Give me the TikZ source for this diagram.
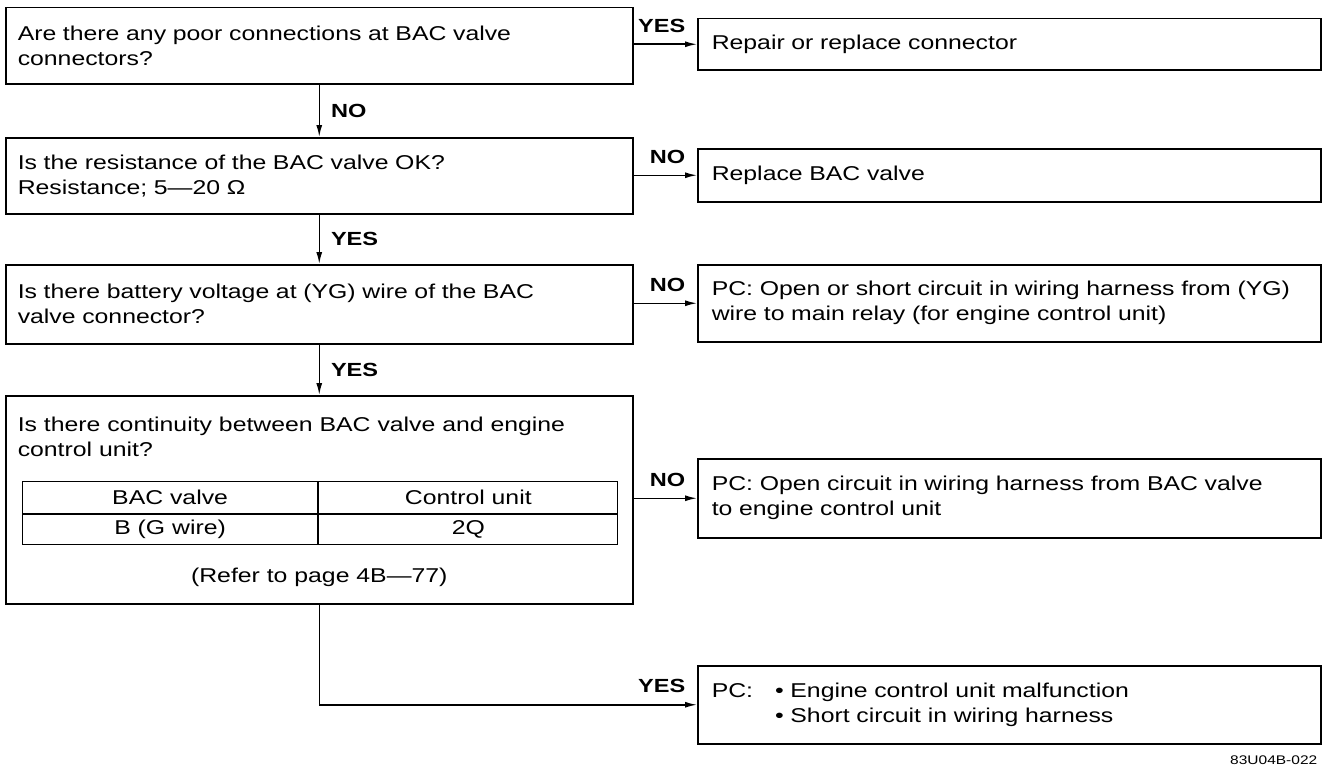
\documentclass[tikz,border=0pt]{standalone}
\usepackage{fontspec}
\setmainfont{Liberation Sans}[FakeStretch=1.24]
\usetikzlibrary{positioning,arrows.meta}

\begin{document}
\begin{tikzpicture}[x=1pt,y=-1pt,line width=1.5pt,>={Latex[length=12pt,width=6pt]}]
\tikzstyle{every node}=[inner sep=0pt,font=\fontsize{20}{25}\selectfont]
\tikzstyle{qbox}=[draw,anchor=north west,text width=603pt,inner xsep=12pt,align=left]
\tikzstyle{abox}=[draw,anchor=north west,text width=595pt,inner xsep=14pt,align=left]
\tikzstyle{cell}=[draw,line width=1.2pt]
\tikzstyle{lbl}=[font=\fontsize{19}{23}\selectfont\bfseries]
\useasboundingbox (0,0) rectangle (1329,768);

% checks on the left
\node[qbox,minimum height=76pt] (q1) at (5,7) {Are there any poor connections at BAC valve\\connectors?};
\node[qbox,minimum height=76pt] (q2) at (5,137) {Is the resistance of the BAC valve OK?\\Resistance; 5—20 Ω};
\node[qbox,minimum height=79pt] (q3) at (5,264) {Is there battery voltage at (YG) wire of the BAC\\valve connector?};
\node[qbox,minimum height=208pt] (q4) at (5,395) {};
\node[anchor=north west,align=left] (q4t) at (17,416) {Is there continuity between BAC valve and engine\\control unit?};

% table inside the last check
\node[cell,anchor=north west,minimum width=295pt,minimum height=32pt] (t11) at (22,481) {BAC valve};
\node[cell,minimum width=299pt,minimum height=32pt,right=0pt of t11] (t12) {Control unit};
\node[cell,minimum width=295pt,minimum height=30pt,below=0pt of t11] (t21) {B (G wire)};
\node[cell,minimum width=299pt,minimum height=30pt,right=0pt of t21] (t22) {2Q};
\node[above=17pt of q4.south] (ref) {(Refer to page 4B—77)};

% results on the right
\node[abox,minimum height=51pt] (a1) at (697,18) {Repair or replace connector};
\node[abox,minimum height=53pt] (a2) at (697,148) {Replace BAC valve};
\node[abox,minimum height=77pt] (a3) at (697,264) {PC: Open or short circuit in wiring harness from (YG)\\wire to main relay (for engine control unit)};
\node[abox,minimum height=79pt] (a4) at (697,458) {PC: Open circuit in wiring harness from BAC valve\\to engine control unit};
\node[abox,minimum height=78pt] (a5) at (697,665) {\begin{tabular}{@{}l@{\hspace{22pt}}l@{}}PC: & \textbullet\ Engine control unit malfunction\\ & \textbullet\ Short circuit in wiring harness\end{tabular}};

\node[anchor=base east,font=\fontsize{12.5}{15}\selectfont] (cap) at (1318,764) {83U04B-022};

% connectors
\draw[->] (q1.south) -- node[lbl,anchor=west,xshift=11pt] (l1) {NO} (q2.north);
\draw[->] (q2.south) -- node[lbl,anchor=west,xshift=11pt] (l2) {YES} (q3.north);
\draw[->] (q3.south) -- node[lbl,anchor=west,xshift=11pt] (l3) {YES} (q4.north);
\draw[->] (a1.west -| q1.east) -- (a1.west) node[lbl,anchor=base east,xshift=-11pt,yshift=12pt] (r1) {YES};
\draw[->] (a2.west -| q2.east) -- (a2.west) node[lbl,anchor=base east,xshift=-11pt,yshift=12pt] (r2) {NO};
\draw[->] (a3.west -| q3.east) -- (a3.west) node[lbl,anchor=base east,xshift=-11pt,yshift=12pt] (r3) {NO};
\draw[->] (a4.west -| q4.east) -- (a4.west) node[lbl,anchor=base east,xshift=-11pt,yshift=12pt] (r4) {NO};
\draw[->] (q4.south) |- (a5.west) node[lbl,anchor=base east,xshift=-11pt,yshift=12pt] (r5) {YES};
\end{tikzpicture}
\end{document}
